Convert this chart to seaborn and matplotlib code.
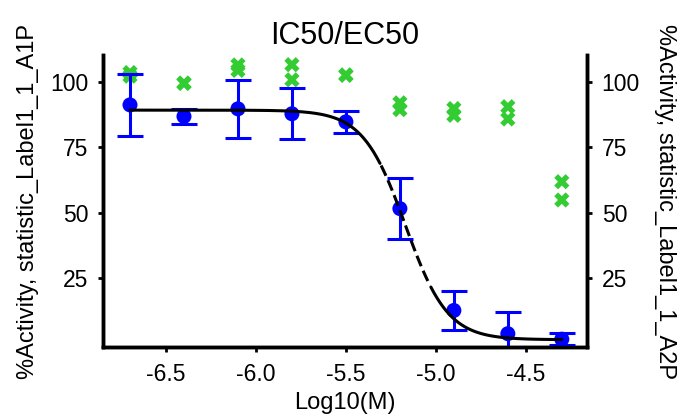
import numpy as np
import pandas as pd
import matplotlib
matplotlib.use("Agg")
import matplotlib.pyplot as plt
import seaborn as sns

sns.set_theme(style="ticks")
plt.rcParams['font.family'] = ['Liberation Sans', 'DejaVu Sans']
plt.rcParams['text.color'] = 'black'
plt.rcParams['axes.labelcolor'] = 'black'

# ---- data ----
log_conc = [-6.7, -6.4, -6.1, -5.8, -5.5, -5.2, -4.9, -4.6, -4.3]
a1p_mean = [91.2, 86.8, 89.7, 87.8, 84.7, 51.5, 12.5, 3.6, 1.5]
a1p_err = [11.8, 3.0, 11.2, 9.8, 4.2, 11.8, 7.3, 8.2, 2.4]
a2p_rep1 = [103.6, 99.6, 106.5, 106.6, 102.7, 92.0, 89.8, 90.5, 61.8]
a2p_rep2 = [102.2, 99.4, 104.4, 100.8, 102.5, 89.4, 87.2, 85.8, 54.8]

# fitted 4PL parameters for A1P
fit_top = 89.2
fit_bottom = 1.3
fit_logic50 = -5.17
fit_hill = 3.7

xticks = [-6.5, -6.0, -5.5, -5.0, -4.5]
yticks = [25, 50, 75, 100]

df_a2p = pd.DataFrame({"x": log_conc * 2, "y": a2p_rep1 + a2p_rep2})

xs = np.linspace(log_conc[0], log_conc[-1], 400)
curve = pd.DataFrame({
    "x": xs,
    "y": fit_bottom + (fit_top - fit_bottom) / (1 + 10 ** ((xs - fit_logic50) * fit_hill)),
})
solid_left = curve[curve.x <= -5.31]
dashed_mid = curve[(curve.x >= -5.31) & (curve.x <= -5.03)]
solid_right = curve[curve.x >= -5.03]

fig = plt.figure(figsize=(6.84, 4.19), dpi=100)
ax = fig.add_axes([0.1506, 0.1718, 0.7076, 0.6969])

sns.scatterplot(data=df_a2p, x="x", y="y", marker="X", s=120, color="#33cc33",
                edgecolor="none", ax=ax, zorder=3)
ax.errorbar(log_conc, a1p_mean, yerr=a1p_err, fmt="none", ecolor="#0000ff",
            elinewidth=2.2, capsize=9.7, capthick=2.2, zorder=4)
sns.scatterplot(x=log_conc, y=a1p_mean, color="#0000ff", s=117, edgecolor="none",
                ax=ax, zorder=5)
for part, ls in [(solid_left, "-"), (dashed_mid, "--"), (solid_right, "-")]:
    sns.lineplot(data=part, x="x", y="y", color="black", linewidth=2.2,
                 linestyle=ls, ax=ax, zorder=6)

ax.set_xlim(-6.85, -4.16)
ax.set_ylim(-1.5, 110.3)
ax.set_xticks(xticks)
ax.set_xticklabels([f"{t:.1f}" for t in xticks])
ax.set_yticks(yticks)
ax.set_xlabel("Log10(M)", fontsize=17, labelpad=4)
ax.set_ylabel("%Activity, statistic_Label1_1_A1P", fontsize=17, labelpad=8)
ax.set_title("IC50/EC50", fontsize=22, pad=8)

ax2 = ax.twinx()
ax2.set_ylim(ax.get_ylim())
ax2.set_yticks(yticks)
ax2.set_ylabel("%Activity, statistic_Label1_1_A2P", fontsize=17, rotation=270,
               va="bottom", labelpad=10)

for a in (ax, ax2):
    a.spines["top"].set_visible(False)
    for s in ("left", "right", "bottom"):
        a.spines[s].set_linewidth(2.5)
        a.spines[s].set_color("black")
    a.tick_params(width=2, length=3.6, labelsize=16.5, colors="black", pad=7)
ax.tick_params(axis="x", pad=8)

plt.savefig("out.png", dpi=100)
